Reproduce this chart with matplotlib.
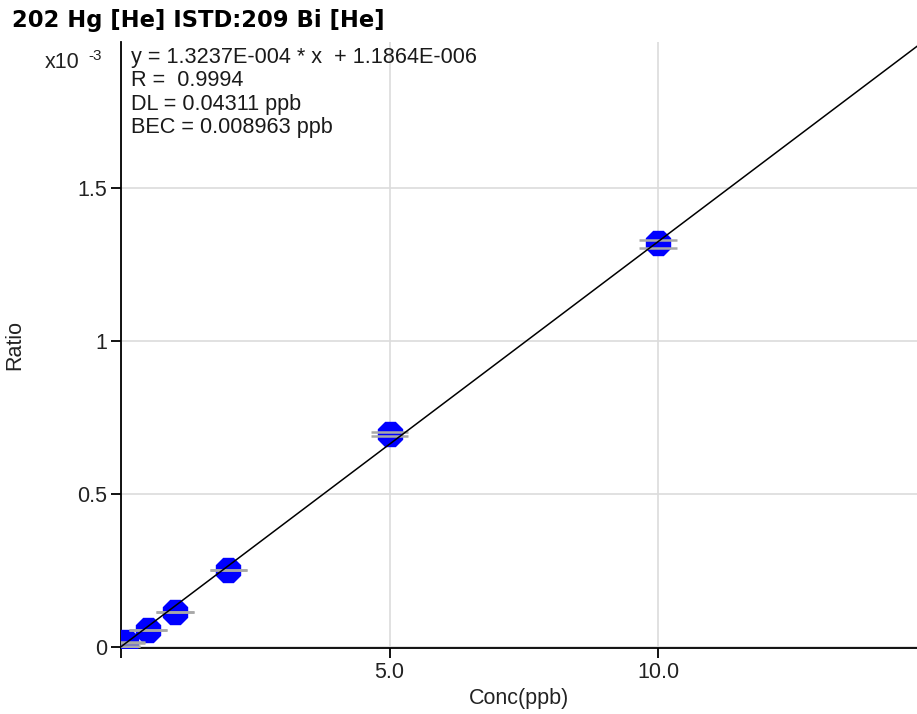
import matplotlib
matplotlib.use("Agg")
import matplotlib.pyplot as plt
import numpy as np

plt.rcParams['font.family'] = ['Liberation Sans', 'DejaVu Sans']

# calibration data (Hg 202 / Bi 209 ratio)
conc = [0.0, 0.1, 0.5, 1.0, 2.0, 5.0, 10.0]
ratio_mean = [0.001e-3, 0.016e-3, 0.055e-3, 0.114e-3, 0.252e-3, 0.696e-3, 1.319e-3]
ratio_rep1 = [0.001e-3, 0.014e-3, 0.055e-3, 0.113e-3, 0.252e-3, 0.702e-3, 1.330e-3]
ratio_rep2 = [0.002e-3, 0.017e-3, 0.056e-3, 0.115e-3, 0.253e-3, 0.691e-3, 1.303e-3]

slope = 1.3237e-4
intercept = 1.1864e-6

title = "202 Hg [He] ISTD:209 Bi [He]"
stats_lines = ["y = 1.3237E-004 * x  + 1.1864E-006",
               "R =  0.9994",
               "DL = 0.04311 ppb",
               "BEC = 0.008963 ppb"]
xticks = [0, 5, 10]
xticklabels = ["", "5.0", "10.0"]
yticks = [0, 0.5, 1, 1.5]
yticklabels = ["0", "0.5", "1", "1.5"]

W, H = 917, 714
fig = plt.figure(figsize=(W/100, H/100), dpi=100)
ax = fig.add_axes([121/W, (H-648)/H, (W-121)/W, (648-42)/H])

scale = 1e-3
ax.plot(conc, np.array(ratio_mean)/scale, ls='none', marker='8', ms=18,
        color='#0000ff', mec='#0000ff', zorder=3, clip_on=True)
for reps in (ratio_rep1, ratio_rep2):
    ax.hlines(np.array(reps)/scale, np.array(conc)-0.35, np.array(conc)+0.35,
              color='#a8a8a8', lw=1.8, zorder=4)

xl = np.array([0, 16])
ax.plot(xl, (slope*xl + intercept)/scale, color='black', lw=1.1, zorder=5)

ax.set_xlim(0, 14.82)
ax.set_ylim(-0.003, 1.977)
ax.set_xticks(xticks)
ax.set_xticklabels(xticklabels)
ax.set_yticks(yticks)
ax.set_yticklabels(yticklabels)
ax.grid(True, color='#dcdcdc', lw=1.2, zorder=0)
ax.set_axisbelow(True)
for s in ('top', 'right'):
    ax.spines[s].set_visible(False)
for s in ('left', 'bottom'):
    ax.spines[s].set_linewidth(1.3)
    ax.spines[s].set_color('black')
ax.tick_params(axis='both', direction='out', length=7, width=1.3,
               labelsize=15.5, colors='black', labelcolor='#222222', pad=3)
ax.set_xlabel("Conc(ppb)", fontsize=15.5, color='#222222', labelpad=4)
ax.set_ylabel("Ratio", fontsize=15.5, color='#222222', labelpad=0)
ax.yaxis.set_label_coords(-0.12, 0.5)

fig.text(12/W, 1 - 21/H, title, fontsize=16.3, fontweight='bold',
         family='DejaVu Sans', va='center', ha='left', color='black')
fig.text(45/W, 1 - 62/H, "x10", fontsize=15.5, va='center', ha='left', color='#222222')
fig.text(88/W, 1 - 56/H, "-3", fontsize=11, va='center', ha='left', color='#222222')
for i, line in enumerate(stats_lines):
    fig.text(131/W, 1 - (57 + i*23.6)/H, line, fontsize=15.6, va='center',
             ha='left', color='#1a1a1a')

fig.savefig("out.png", dpi=100)
